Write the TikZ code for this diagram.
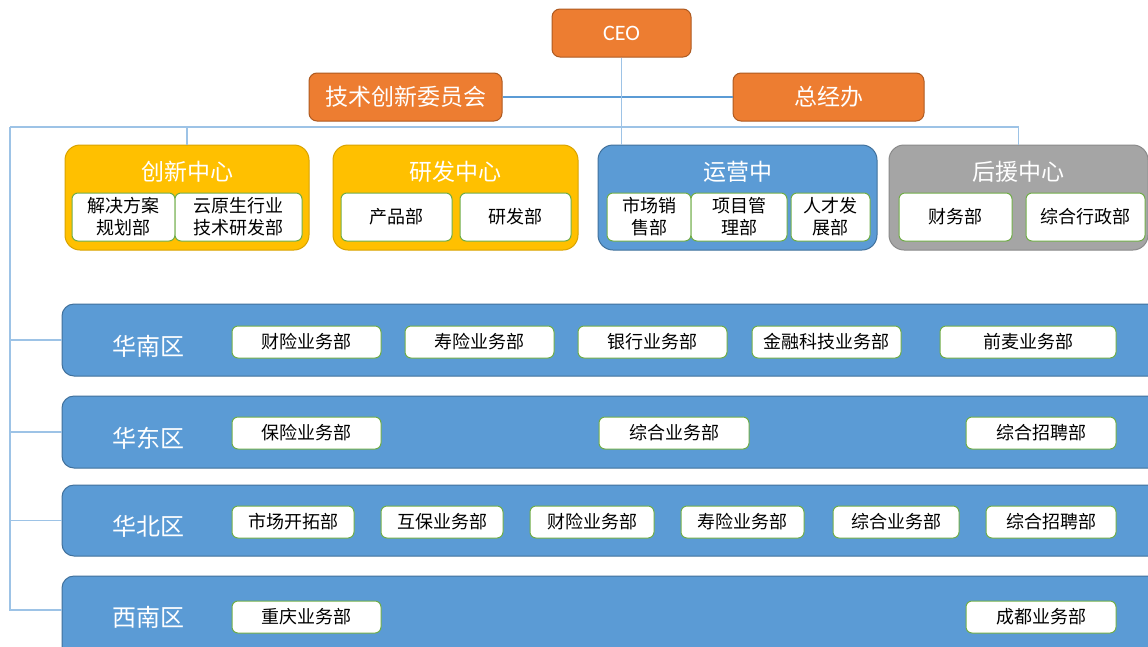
\documentclass[tikz,border=0pt]{standalone}
\usepackage{fontspec}
\setmainfont{Carlito}
\newfontfamily\cjk{Noto Sans CJK SC}
\definecolor{orgF}{HTML}{ED7D31}
\definecolor{orgD}{HTML}{AE5A21}
\definecolor{yelF}{HTML}{FFC000}
\definecolor{yelD}{HTML}{D9A300}
\definecolor{bluF}{HTML}{5B9BD5}
\definecolor{bluD}{HTML}{41719C}
\definecolor{gryF}{HTML}{A5A5A5}
\definecolor{gryD}{HTML}{8A8A8A}
\definecolor{grnD}{HTML}{70AD47}
\definecolor{lnC}{HTML}{9DC3E6}
\begin{document}
\begin{tikzpicture}[x=1pt,y=-1pt,
  orgbox/.style={draw=orgD,fill=orgF,line width=1pt,rounded corners=8pt,text=white,
     inner sep=0pt,font=\cjk\fontsize{23}{26}\selectfont},
  ctrbox/.style={line width=1pt,rounded corners=15pt,inner sep=0pt,minimum height=105pt},
  ttl/.style={text=white,inner sep=0pt,font=\cjk\fontsize{23}{26}\selectfont},
  subbox/.style={draw=grnD,fill=white,line width=1pt,rounded corners=6pt,inner sep=0pt,
     align=center,font=\cjk\fontsize{18}{22}\selectfont,text=black},
  regbar/.style={draw=bluD,fill=bluF,line width=1pt,rounded corners=12pt,inner sep=0pt,
     minimum width=1098pt},
  reglbl/.style={text=white,inner sep=0pt,font=\cjk\fontsize{24}{26}\selectfont},
  conn/.style={draw=lnC,line width=1.3pt},
  mainconn/.style={draw=bluF,line width=2pt}]
\useasboundingbox (0,0) rectangle (1148,646);
\fill[white] (0,0) rectangle (1148,646);

% top level
\node[orgbox,minimum width=139pt,minimum height=48pt,font=\fontsize{22}{24}\selectfont] (ceo) at (621.5,33) {CEO};
\node[orgbox,minimum width=193pt,minimum height=48pt] (tech) at (405.5,97) {技术创新委员会};
\node[orgbox,minimum width=191pt,minimum height=48pt] (zjb) at (828.5,97) {总经办};

% centres
\node[ctrbox,draw=yelD,fill=yelF,minimum width=244pt] (cx) at (187,197.5) {};
\node[ctrbox,draw=yelD,fill=yelF,minimum width=245pt] (yf) at (455.5,197.5) {};
\node[ctrbox,draw=bluD,fill=bluF,minimum width=279pt] (yy) at (737.5,197.5) {};
\node[ctrbox,draw=gryD,fill=gryF,minimum width=259pt] (hy) at (1018.5,197.5) {};

% connectors
\coordinate (trunk) at (10,127);
\draw[mainconn] (tech.east) -- (zjb.west);
\draw[conn] (ceo.south) -- (ceo.south |- yy.north);
\draw[conn] (trunk) -| (hy.north);
\draw[conn] (trunk -| cx.north) -- (cx.north);

\node[ttl] (cxT) at (187,172) {创新中心};
\node[ttl] (yfT) at (455.5,172) {研发中心};
\node[ttl] (yyT) at (738,172) {运营中};
\node[ttl] (hyT) at (1018.5,172) {后援中心};

\node[subbox,minimum width=103pt,minimum height=48pt] (cx1) at (123.5,217) {解决方案\\规划部};
\node[subbox,minimum width=127pt,minimum height=48pt] (cx2) at (238.5,217) {云原生行业\\技术研发部};
\node[subbox,minimum width=111pt,minimum height=48pt] (yf1) at (396.5,217) {产品部};
\node[subbox,minimum width=111pt,minimum height=48pt] (yf2) at (515.5,217) {研发部};
\node[subbox,minimum width=84pt,minimum height=48pt] (yy1) at (649,217) {市场销\\售部};
\node[subbox,minimum width=96pt,minimum height=48pt] (yy2) at (739,217) {项目管\\理部};
\node[subbox,minimum width=79pt,minimum height=48pt] (yy3) at (830.5,217) {人才发\\展部};
\node[subbox,minimum width=113pt,minimum height=48pt] (hy1) at (955.5,217) {财务部};
\node[subbox,minimum width=119pt,minimum height=48pt] (hy2) at (1085.5,217) {综合行政部};

% regions
\node[regbar,minimum height=72pt] (r1) at (611,340) {};
\node[regbar,minimum height=72pt] (r2) at (611,432) {};
\node[regbar,minimum height=71pt] (r3) at (611,520.5) {};
\node[regbar,minimum height=90pt] (r4) at (611,621) {};

\draw[conn] (trunk) |- ([yshift=11pt]r4.west);
\draw[conn] (trunk |- r1.west) -- (r1.west);
\draw[conn] (trunk |- r2.west) -- (r2.west);
\draw[conn] (trunk |- r3.west) -- (r3.west);

\node[reglbl] (r1L) at (148,346) {华南区};
\node[reglbl] (r2L) at (148,438) {华东区};
\node[reglbl] (r3L) at (148,526) {华北区};
\node[reglbl] (r4L) at (148,617) {西南区};

\foreach \n/\x/\w/\t in {a/306.5/149/财险业务部, b/479.5/149/寿险业务部, c/652.5/149/银行业务部,
   d/826.5/149/金融科技业务部, e/1028/176/前麦业务部}
  \node[subbox,minimum width=\w pt,minimum height=32pt] (r1\n) at (\x,342) {\t};
\foreach \n/\x/\w/\t in {a/306.5/149/保险业务部, b/674/150/综合业务部, c/1041/150/综合招聘部}
  \node[subbox,minimum width=\w pt,minimum height=32pt] (r2\n) at (\x,433) {\t};
\foreach \n/\x/\w/\t in {a/293/122/市场开拓部, b/442/122/互保业务部, c/592/124/财险业务部,
   d/742.5/123/寿险业务部, e/896/126/综合业务部, f/1051/130/综合招聘部}
  \node[subbox,minimum width=\w pt,minimum height=32pt] (r3\n) at (\x,522) {\t};
\foreach \n/\x/\w/\t in {a/306.5/149/重庆业务部, b/1041/150/成都业务部}
  \node[subbox,minimum width=\w pt,minimum height=32pt] (r4\n) at (\x,617) {\t};
\end{tikzpicture}
\end{document}
